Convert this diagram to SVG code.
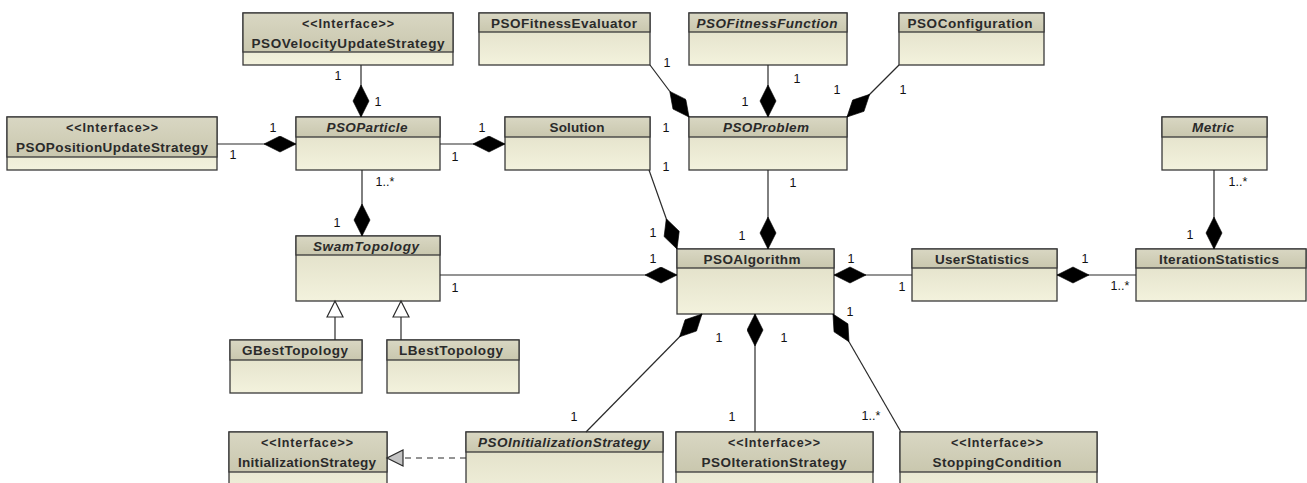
<svg xmlns="http://www.w3.org/2000/svg" width="1307" height="483" viewBox="0 0 1307 483">
<style>
.body{fill:url(#gBody);stroke:#3a3a3a;stroke-width:1.3}
.head{fill:url(#gHead);stroke:#3a3a3a;stroke-width:1.3}
.nm{font-family:"Liberation Sans",Arial,sans-serif;font-weight:bold;font-size:13.5px;fill:#2a2a2a;text-anchor:middle}
.it{font-style:italic}
.st{font-family:"Liberation Sans",Arial,sans-serif;font-weight:bold;font-size:12.5px;fill:#2a2a2a;text-anchor:middle}
.lb{font-family:"Liberation Sans",Arial,sans-serif;font-size:12.5px;fill:#111;text-anchor:middle}
.ln{fill:none;stroke:#2a2a2a;stroke-width:1.2}
.comp{marker-end:url(#dia)}
.gen{marker-end:url(#tri)}
.real{marker-end:url(#triG);stroke-dasharray:6,5}
</style>
<defs>
<linearGradient id="gBody" x1="0" y1="0" x2="0" y2="1">
<stop offset="0" stop-color="#dedcc4"/>
<stop offset="1" stop-color="#f3f2dd"/>
</linearGradient>
<linearGradient id="gHead" x1="0" y1="0" x2="0" y2="1">
<stop offset="0" stop-color="#d9d7c3"/>
<stop offset="1" stop-color="#c9c7ae"/>
</linearGradient>
<marker id="dia" markerUnits="userSpaceOnUse" markerWidth="34" markerHeight="18" refX="32" refY="8.5" orient="auto">
<path d="M0,8.5 L16,0.5 L32,8.5 L16,16.5 Z" fill="#000" stroke="#000" stroke-width="0.6"/>
</marker>
<marker id="tri" markerUnits="userSpaceOnUse" markerWidth="19" markerHeight="19" refX="17" refY="9" orient="auto">
<path d="M1,1 L17,9 L1,17 Z" fill="#fff" stroke="#2a2a2a" stroke-width="1.2"/>
</marker>
<marker id="triG" markerUnits="userSpaceOnUse" markerWidth="19" markerHeight="19" refX="17" refY="9" orient="auto">
<path d="M1,1 L17,9 L1,17 Z" fill="#c4c4c4" stroke="#2a2a2a" stroke-width="1.2"/>
</marker>
</defs>

<g id="PSOVelocityUpdateStrategy">
<rect class="body" x="243" y="13" width="210" height="52"/>
<rect class="head" x="243" y="13" width="210" height="39"/>
<text class="st" x="348" y="27.5" textLength="92" lengthAdjust="spacing">&lt;&lt;Interface&gt;&gt;</text>
<text class="nm" x="348" y="48" textLength="193" lengthAdjust="spacing">PSOVelocityUpdateStrategy</text>
</g>
<g id="PSOPositionUpdateStrategy">
<rect class="body" x="7" y="117" width="210" height="53"/>
<rect class="head" x="7" y="117" width="210" height="40"/>
<text class="st" x="112" y="131.5" textLength="92" lengthAdjust="spacing">&lt;&lt;Interface&gt;&gt;</text>
<text class="nm" x="112" y="152" textLength="192" lengthAdjust="spacing">PSOPositionUpdateStrategy</text>
</g>
<g id="PSOParticle">
<rect class="body" x="296" y="117" width="144" height="53"/>
<rect class="head" x="296" y="117" width="144" height="20"/>
<text class="nm it" x="367" y="132" textLength="81" lengthAdjust="spacing">PSOParticle</text>
</g>
<g id="Solution">
<rect class="body" x="505" y="117" width="145" height="53"/>
<rect class="head" x="505" y="117" width="145" height="20"/>
<text class="nm" x="577" y="132" textLength="55" lengthAdjust="spacing">Solution</text>
</g>
<g id="PSOFitnessEvaluator">
<rect class="body" x="479" y="13" width="171" height="52"/>
<rect class="head" x="479" y="13" width="171" height="19"/>
<text class="nm" x="564" y="28" textLength="146" lengthAdjust="spacing">PSOFitnessEvaluator</text>
</g>
<g id="PSOFitnessFunction">
<rect class="body" x="689" y="13" width="158" height="52"/>
<rect class="head" x="689" y="13" width="158" height="19"/>
<text class="nm it" x="767" y="28" textLength="141" lengthAdjust="spacing">PSOFitnessFunction</text>
</g>
<g id="PSOConfiguration">
<rect class="body" x="899" y="13" width="145" height="52"/>
<rect class="head" x="899" y="13" width="145" height="19"/>
<text class="nm" x="970" y="28" textLength="125" lengthAdjust="spacing">PSOConfiguration</text>
</g>
<g id="PSOProblem">
<rect class="body" x="689" y="117" width="158" height="53"/>
<rect class="head" x="689" y="117" width="158" height="20"/>
<text class="nm it" x="766" y="132" textLength="86" lengthAdjust="spacing">PSOProblem</text>
</g>
<g id="Metric">
<rect class="body" x="1162" y="117" width="105" height="53"/>
<rect class="head" x="1162" y="117" width="105" height="20"/>
<text class="nm it" x="1213" y="132" textLength="42" lengthAdjust="spacing">Metric</text>
</g>
<g id="SwamTopology">
<rect class="body" x="296" y="236" width="144" height="65"/>
<rect class="head" x="296" y="236" width="144" height="19"/>
<text class="nm it" x="366" y="251" textLength="106" lengthAdjust="spacing">SwamTopology</text>
</g>
<g id="GBestTopology">
<rect class="body" x="230" y="340" width="132" height="53"/>
<rect class="head" x="230" y="340" width="132" height="20"/>
<text class="nm" x="295" y="355" textLength="106" lengthAdjust="spacing">GBestTopology</text>
</g>
<g id="LBestTopology">
<rect class="body" x="387" y="340" width="132" height="53"/>
<rect class="head" x="387" y="340" width="132" height="20"/>
<text class="nm" x="451" y="355" textLength="104" lengthAdjust="spacing">LBestTopology</text>
</g>
<g id="PSOAlgorithm">
<rect class="body" x="677" y="249" width="157" height="65"/>
<rect class="head" x="677" y="249" width="157" height="19"/>
<text class="nm" x="752" y="264" textLength="97" lengthAdjust="spacing">PSOAlgorithm</text>
</g>
<g id="UserStatistics">
<rect class="body" x="912" y="249" width="145" height="52"/>
<rect class="head" x="912" y="249" width="145" height="19"/>
<text class="nm" x="982" y="264" textLength="94" lengthAdjust="spacing">UserStatistics</text>
</g>
<g id="IterationStatistics">
<rect class="body" x="1136" y="249" width="170" height="52"/>
<rect class="head" x="1136" y="249" width="170" height="19"/>
<text class="nm" x="1219" y="264" textLength="120" lengthAdjust="spacing">IterationStatistics</text>
</g>
<g id="InitializationStrategy">
<rect class="body" x="229" y="432" width="158" height="70"/>
<rect class="head" x="229" y="432" width="158" height="40"/>
<text class="st" x="307" y="446.5" textLength="92" lengthAdjust="spacing">&lt;&lt;Interface&gt;&gt;</text>
<text class="nm" x="307" y="467" textLength="138" lengthAdjust="spacing">InitializationStrategy</text>
</g>
<g id="PSOInitializationStrategy">
<rect class="body" x="466" y="432" width="197" height="70"/>
<rect class="head" x="466" y="432" width="197" height="20"/>
<text class="nm it" x="564" y="447" textLength="172" lengthAdjust="spacing">PSOInitializationStrategy</text>
</g>
<g id="PSOIterationStrategy">
<rect class="body" x="676" y="432" width="197" height="70"/>
<rect class="head" x="676" y="432" width="197" height="40"/>
<text class="st" x="774" y="446.5" textLength="92" lengthAdjust="spacing">&lt;&lt;Interface&gt;&gt;</text>
<text class="nm" x="774" y="467" textLength="145" lengthAdjust="spacing">PSOIterationStrategy</text>
</g>
<g id="StoppingCondition">
<rect class="body" x="900" y="432" width="197" height="70"/>
<rect class="head" x="900" y="432" width="197" height="40"/>
<text class="st" x="997" y="446.5" textLength="92" lengthAdjust="spacing">&lt;&lt;Interface&gt;&gt;</text>
<text class="nm" x="997" y="467" textLength="129" lengthAdjust="spacing">StoppingCondition</text>
</g>

<g id="connectors">
<path class="ln comp" d="M361,65 L361,117"/>
<path class="ln comp" d="M217,144 L296,144"/>
<path class="ln comp" d="M440,144 L505,144"/>
<path class="ln comp" d="M362,170 L362,236"/>
<path class="ln gen" d="M335,340 L335,301"/>
<path class="ln gen" d="M401,340 L401,301"/>
<path class="ln comp" d="M440,275 L677,275"/>
<path class="ln comp" d="M649,170 L677,249"/>
<path class="ln comp" d="M650,65 L689,117"/>
<path class="ln comp" d="M768,65 L768,117"/>
<path class="ln comp" d="M899,65 L847,117"/>
<path class="ln comp" d="M768,170 L768,249"/>
<path class="ln comp" d="M912,275 L834,275"/>
<path class="ln comp" d="M1136,275 L1057,275"/>
<path class="ln comp" d="M1214,170 L1214,249"/>
<path class="ln comp" d="M586,432 L702,314"/>
<path class="ln comp" d="M755,432 L755,314"/>
<path class="ln comp" d="M901,432 L833,314"/>
<path class="ln real" d="M466,458 L387,458"/>
<g id="labels">
<text class="lb" x="338" y="80">1</text>
<text class="lb" x="378" y="106">1</text>
<text class="lb" x="273" y="132">1</text>
<text class="lb" x="233" y="159">1</text>
<text class="lb" x="482" y="132">1</text>
<text class="lb" x="455" y="161">1</text>
<text class="lb" x="385" y="186">1..*</text>
<text class="lb" x="337" y="227">1</text>
<text class="lb" x="455" y="292">1</text>
<text class="lb" x="653" y="263">1</text>
<text class="lb" x="667" y="67">1</text>
<text class="lb" x="666" y="132">1</text>
<text class="lb" x="666" y="171">1</text>
<text class="lb" x="653" y="237">1</text>
<text class="lb" x="797" y="83">1</text>
<text class="lb" x="745" y="106">1</text>
<text class="lb" x="837" y="94">1</text>
<text class="lb" x="903" y="94">1</text>
<text class="lb" x="793" y="187">1</text>
<text class="lb" x="742" y="240">1</text>
<text class="lb" x="851" y="263">1</text>
<text class="lb" x="902" y="291">1</text>
<text class="lb" x="1085" y="263">1</text>
<text class="lb" x="1120" y="290">1..*</text>
<text class="lb" x="1238" y="186">1..*</text>
<text class="lb" x="1190" y="239">1</text>
<text class="lb" x="574" y="421">1</text>
<text class="lb" x="719" y="342">1</text>
<text class="lb" x="732" y="421">1</text>
<text class="lb" x="784" y="342">1</text>
<text class="lb" x="871" y="420">1..*</text>
<text class="lb" x="850" y="316">1</text>
</g>
</g>
</svg>
